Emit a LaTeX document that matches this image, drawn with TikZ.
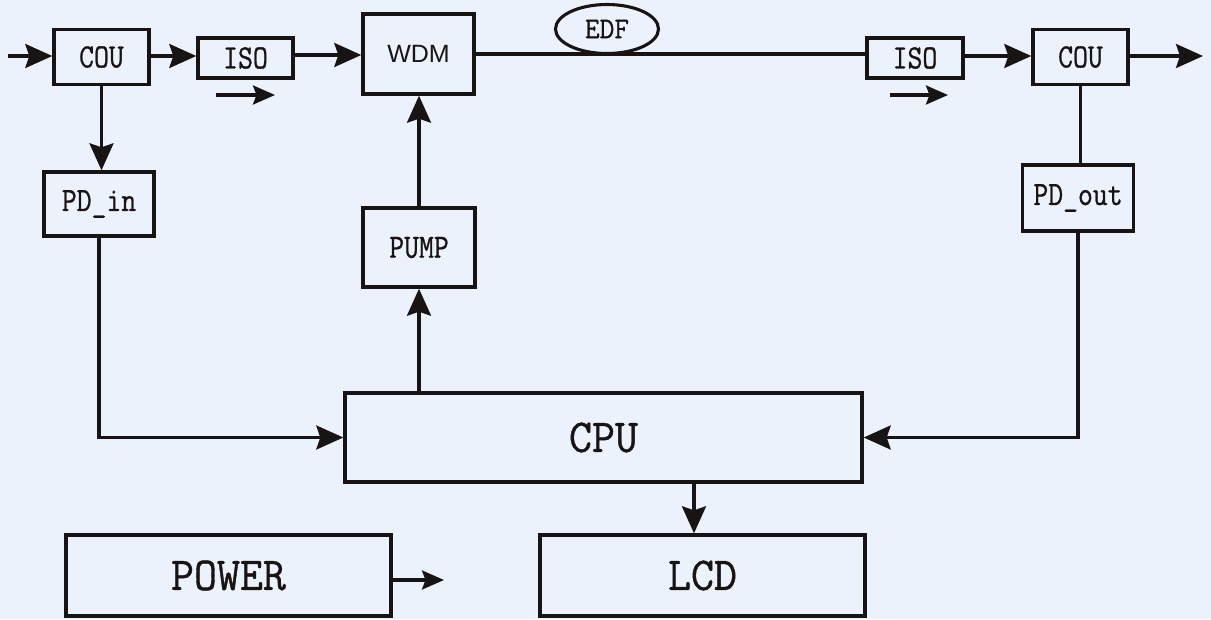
\documentclass[tikz,border=0pt]{standalone}
\usepackage{fontspec}
\usetikzlibrary{arrows.meta,shapes.geometric}
\newfontfamily\boxfont{Latin Modern Mono}[FakeStretch=0.85,FakeBold=0.8]
\newfontfamily\edffont{Latin Modern Mono}[FakeStretch=0.95,FakeBold=0.8]
\newfontfamily\bigfont{Latin Modern Mono}[FakeStretch=0.95,FakeBold=0.8]
\newfontfamily\sansf{Liberation Sans}
\definecolor{bg}{RGB}{236,242,252}
\definecolor{ink}{RGB}{24,20,20}
\tikzset{
  blk/.style={draw=ink, line width=3.4pt, inner sep=0pt, text=ink, font=\boxfont\fontsize{34}{34}\selectfont},
  bigblk/.style={blk, font=\bigfont\fontsize{47}{47}\selectfont},
  conn/.style={draw=ink, line width=3.1pt},
  arr/.style={conn, -{Stealth[length=27pt,width=24pt,inset=4pt]}},
  smallarr/.style={conn, -{Stealth[length=22pt,width=19pt,inset=3.5pt]}}
}
\begin{document}
\begin{tikzpicture}[x=1pt,y=-1pt]
\useasboundingbox (0,0) rectangle (1211,619);
\fill[bg] (0,0) rectangle (1211,619);

% boxes
\node[blk, minimum width=95, minimum height=55] (cou1) at (101.5,57) {COU};
\node[blk, minimum width=95, minimum height=40] (iso1) at (245.5,58) {ISO};
\node[blk, minimum width=111, minimum height=80, font=\sansf\fontsize{25}{25}\selectfont] (wdm) at (418.5,54) {WDM};
\node[blk, minimum width=96, minimum height=40] (iso2) at (915,58) {ISO};
\node[blk, minimum width=95, minimum height=55] (cou2) at (1080.5,57) {COU};
\node[blk, minimum width=110, minimum height=64] (pdin) at (99,204) {PD\_in};
\node[blk, minimum width=112, minimum height=79] (pump) at (419,247.5) {PUMP};
\node[blk, minimum width=111, minimum height=66] (pdout) at (1078,198) {PD\_out};
\node[bigblk, minimum width=517, minimum height=89] (cpu) at (603.5,437.5) {CPU};
\node[bigblk, minimum width=325, minimum height=81] (power) at (228.5,575.5) {POWER};
\node[bigblk, minimum width=325, minimum height=81] (lcd) at (702.5,575.5) {LCD};

% fibre line with EDF
\draw[conn] (wdm.east) -- (wdm.east -| iso2.west);
\node[ellipse, draw=ink, line width=3.1pt, fill=bg, minimum width=103, minimum height=49, inner sep=0pt, text=ink, font=\edffont\fontsize{30}{30}\selectfont] (edf) at (607,29) {EDF};

% coordinates for free ends
\coordinate (inS) at (8,56);
\coordinate (outE) at (1203,56);
\coordinate (s1a) at (216,95);
\coordinate (s1b) at (275,95);
\coordinate (s2a) at (890,95);
\coordinate (s2b) at (948,95);
\coordinate (lcdx) at (694,0);
\coordinate (pwE) at (444,580);

% connectors
\draw[arr] (inS) -- (inS -| cou1.west);
\draw[arr] (cou1.east |- 0,56) -- (iso1.west |- 0,56);
\draw[arr] (iso1.east |- 0,55) -- (wdm.west |- 0,55);
\draw[arr] (iso2.east |- 0,56) -- (cou2.west |- 0,56);
\draw[arr] (cou2.east |- 0,56) -- (outE);
\draw[smallarr] (s1a) -- (s1b);
\draw[smallarr] (s2a) -- (s2b);
\draw[arr] (cou1.south) -- (cou1.south |- pdin.north);
\draw[arr] (pdin.south) |- (cpu.west);
\draw[arr] (pump.north) -- (pump.north |- wdm.south);
\draw[arr] (cpu.north -| pump) -- (pump.south);
\draw[conn] (cou2.south) -- (cou2.south |- pdout.north);
\draw[arr] (pdout.south) |- (cpu.east);
\draw[arr] (cpu.south -| lcdx) -- (lcd.north -| lcdx);
\draw[smallarr] (power.east |- pwE) -- (pwE);
\end{tikzpicture}
\end{document}
